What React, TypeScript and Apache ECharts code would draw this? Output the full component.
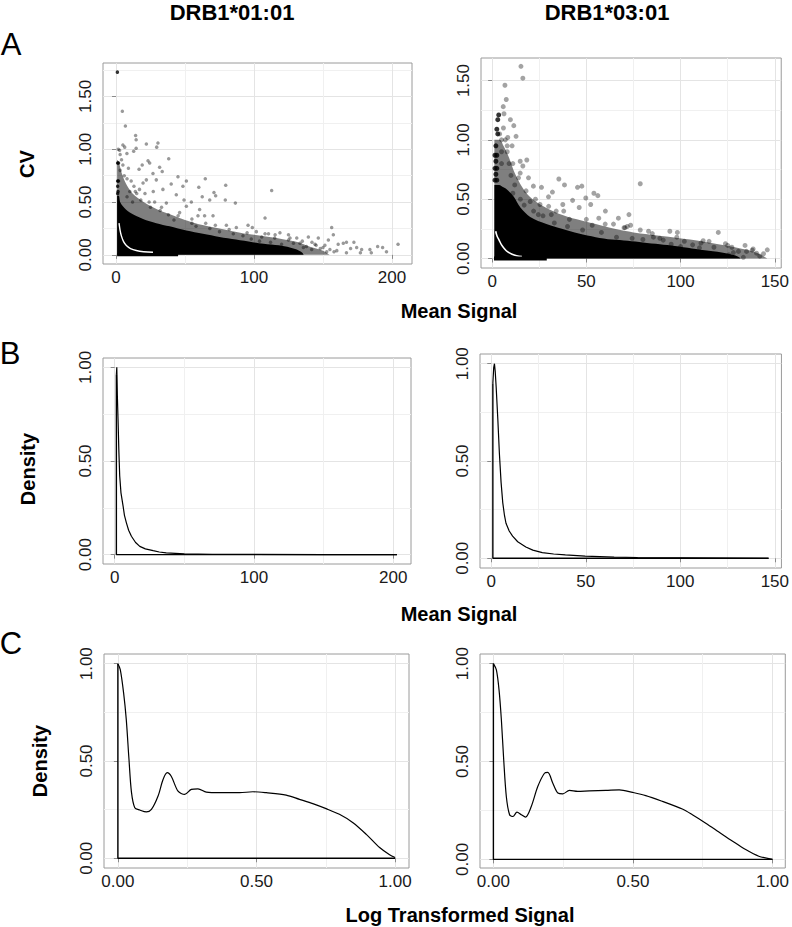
import React, { useEffect, useRef } from "react";
import * as echarts from "echarts";

// ---------------- Data ----------------
// Panel A (CV vs Mean Signal), DRB1*01:01
const a1Outliers: [number, number][] = [
  [4.6, 1.36], [6.8, 1.22], [14.2, 1.13], [14.6, 1.09], [22, 1.05], [30.4, 1.06], [29.5, 1.02], [1.6, 1.0],
  [2.6, 0.99], [5, 1.04], [6.3, 1.02], [12.8, 0.98], [14.6, 1.01], [7.9, 0.96], [38.2, 0.91], [23.2, 0.89],
  [24.4, 0.87], [19, 0.85], [31.6, 0.83], [33.5, 0.79], [16.7, 0.81], [44.9, 0.74], [64.7, 0.72], [51, 0.7],
  [40, 0.67], [48.5, 0.65], [60, 0.64], [79.5, 0.66], [71, 0.59], [72.2, 0.56], [67.9, 0.52], [79.2, 0.52],
  [86.5, 0.49], [62.5, 0.55], [54.6, 0.5], [49.3, 0.52], [43.7, 0.57], [60.6, 0.43], [59.4, 0.37], [64.2, 0.37],
  [70.3, 0.37], [51, 0.46], [46.1, 0.4], [36.5, 0.49], [34, 0.62], [29.2, 0.71], [22, 0.71], [26.8, 0.77],
  [19.6, 0.68], [95.7, 0.28], [87.2, 0.26], [101.7, 0.22], [112.8, 0.61], [108, 0.35], [98.8, 0.26],
  [156.3, 0.26], [157.5, 0.19], [153.9, 0.14], [146.6, 0.16], [139.4, 0.17], [131, 0.16], [125, 0.19],
  [118.8, 0.21], [164.7, 0.11], [167, 0.12], [172.4, 0.12], [174.4, 0.07], [178, 0.05], [184, 0.05],
  [189.6, 0.08], [193.2, 0.07], [204.4, 0.1], [167, 0.02], [161, 0.1], [151.4, 0.09], [144.2, 0.1],
  [141.8, 0.05], [135.8, 0.07], [133.3, 0.11], [152.7, 0.03], [177.1, 0.02], [105.6, 0.17], [110.5, 0.2],
  [115.3, 0.19], [126.1, 0.16], [128.6, 0.11], [8, 0.55], [10, 0.6], [12, 0.5], [15, 0.58], [18, 0.52],
  [25, 0.45], [28, 0.5], [32, 0.42], [38, 0.38], [42, 0.33], [55, 0.3], [58, 0.27], [68, 0.25], [75, 0.22],
  [80, 0.28], [85, 0.2], [92, 0.18], [98, 0.15], [104, 0.13], [112, 0.12], [120, 0.1], [138, 0.08],
  [142, 0.12], [148, 0.06], [155, 0.05], [160, 0.04], [170, 0.06], [185, 0.02], [196, 0.03], [3, 0.8],
  [4, 0.9], [6, 0.75], [9, 0.82], [11, 0.7], [13, 0.65], [17, 0.62], [21, 0.58], [27, 0.6],
  [3, 0.95], [5, 0.85], [8, 0.72], [14, 0.6], [24, 0.5], [33, 0.45], [45, 0.37], [55, 0.34], [65, 0.3],
  [72, 0.28], [82, 0.24], [95, 0.21], [108, 0.2], [115, 0.16], [125, 0.14], [135, 0.13], [145, 0.09],
  [150, 0.07], [158, 0.03],
];
const a1Column: [number, number][] = [
  [1, 1.73], [1.2, 0.87], [1.8, 0.87], [1.2, 0.7], [1.8, 0.7], [1.2, 0.65], [1.5, 0.6], [1.2, 0.58],
];
const a1Core: [number, number][] = [
  [0.8, 0], [0.8, 0.56], [2, 0.56], [3, 0.5], [5, 0.46], [10, 0.4], [19.6, 0.34], [29.2, 0.3], [38.9, 0.27],
  [51, 0.23], [63, 0.2], [75, 0.17], [87, 0.145], [99, 0.12], [107, 0.105], [118, 0.09], [126, 0.07],
  [131, 0.05], [135, 0.02], [136, 0],
];
const a1Halo: [number, number][] = [
  [0.8, 0], [0.8, 0.9], [2, 0.88], [4, 0.78], [7, 0.68], [12, 0.58], [20, 0.5], [30, 0.43], [40, 0.38],
  [50, 0.33], [60, 0.29], [75, 0.25], [90, 0.21], [105, 0.18], [120, 0.15], [132, 0.12], [140, 0.08],
  [150, 0.04], [155, 0],
];
const a1Gap: [number, number][] = [
  [2.2, 0.3], [3, 0.23], [3.9, 0.18], [5.5, 0.125], [7.5, 0.088], [10.5, 0.06], [14.7, 0.041], [20, 0.03], [26.8, 0.025],
];
const a1Zero: [number, number][] = [[0.8, 0], [45, 0]];

// Panel A, DRB1*03:01
const a2Outliers: [number, number][] = [
  [15.3, 1.62], [16.3, 1.52], [6.8, 1.46], [7.5, 1.34], [5.9, 1.28], [6.3, 1.22], [9.7, 1.17], [11.5, 1.12],
  [12.7, 1.03], [10.6, 0.95], [8.3, 1.02], [14.9, 0.82], [18.4, 0.83], [16.3, 0.78], [14.9, 0.72], [19.3, 0.68],
  [21.9, 0.61], [26.2, 0.6], [35.4, 0.67], [38.4, 0.62], [32, 0.56], [29.9, 0.52], [45.3, 0.6], [47.6, 0.61],
  [42.7, 0.49], [49.7, 0.51], [54, 0.55], [56.1, 0.53], [60.1, 0.4], [52.3, 0.455], [46.2, 0.43], [37.5, 0.455],
  [34, 0.4], [25.4, 0.455], [24.5, 0.37], [64.4, 0.29], [67, 0.34], [70.5, 0.26], [56.6, 0.34], [53.1, 0.28],
  [41, 0.33], [31.4, 0.37], [20.2, 0.48], [78.6, 0.63], [72.6, 0.37], [73.5, 0.28], [78.6, 0.24], [83, 0.23],
  [94.3, 0.23], [98.3, 0.22], [120, 0.22], [123.8, 0.125], [127.2, 0.095], [134.2, 0.11], [138.5, 0.08],
  [140.3, 0.045], [146, 0.073], [130.7, 0.06], [133.3, 0.01], [125.6, 0.031], [85.6, 0.18], [89, 0.17],
  [102, 0.145], [110.8, 0.13], [115.1, 0.145], [106.4, 0.115], [117.7, 0.095], [74.3, 0.17], [71.7, 0.27],
  [90.8, 0.155], [5, 0.9], [7, 1.0], [6, 1.1], [8, 0.9], [9, 0.8], [10, 0.7], [12, 0.62], [11, 0.55],
  [15, 0.5], [17, 0.45], [22, 0.4], [27, 0.36], [33, 0.3], [40, 0.27], [48, 0.24], [58, 0.22], [66, 0.18],
  [80, 0.16], [95, 0.12], [100, 0.1], [110, 0.09], [128, 0.05], [135, 0.06], [142, 0.02], [5, 0.8], [4, 1.05],
  [5, 1.0], [8, 0.95], [11, 0.8], [14, 0.68], [18, 0.57], [23, 0.5], [30, 0.44], [38, 0.4], [50, 0.33],
  [60, 0.29], [70, 0.26], [85, 0.21], [98, 0.18], [112, 0.15], [125, 0.11], [138, 0.07], [144, 0.04],
];
const a2Column: [number, number][] = [
  [3.5, 1.21], [3, 1.17], [2.5, 1.09], [3, 1.05], [2, 0.95], [1.5, 0.87], [2.5, 0.87], [2, 0.82],
  [1.5, 0.76], [2.5, 0.76], [2, 0.71], [1.5, 0.66], [2.5, 0.66],
];
const a2Core: [number, number][] = [
  [1.2, 0], [1.2, 0.62], [3.7, 0.62], [6, 0.6], [8, 0.58], [11.5, 0.52], [15, 0.43], [20.2, 0.35],
  [28.8, 0.29], [37, 0.25], [46, 0.21], [55, 0.18], [63.5, 0.16], [72, 0.15], [80, 0.135], [89, 0.12],
  [97, 0.105], [106, 0.085], [115, 0.065], [124, 0.045], [130, 0.02], [132, 0],
];
const a2Halo: [number, number][] = [
  [1.2, 0], [1.2, 1.0], [4, 1.0], [6, 0.95], [9, 0.85], [12, 0.72], [16, 0.6], [20, 0.52], [26, 0.45],
  [35, 0.38], [45, 0.33], [55, 0.29], [65, 0.25], [75, 0.22], [90, 0.19], [105, 0.16], [120, 0.12],
  [130, 0.09], [140, 0.05], [146, 0],
];
const a2Gap: [number, number][] = [
  [1.9, 0.23], [2.6, 0.19], [3.7, 0.155], [5, 0.115], [6.3, 0.087], [8.3, 0.055], [10.6, 0.036], [13, 0.024], [15.8, 0.016],
];
const a2Zero: [number, number][] = [[1.0, 0], [29, 0]];

// Panel B (density of mean signal)
const b1Curve: [number, number][] = [
  [1.2, 0.96], [1.5, 1.0], [1.9, 0.85], [2.4, 0.72], [3, 0.55], [3.6, 0.42], [4.5, 0.33], [6, 0.26], [7, 0.21],
  [8.4, 0.17], [10, 0.13], [12, 0.098], [15, 0.065], [18, 0.044], [22, 0.031], [27.6, 0.021], [32, 0.014],
  [37, 0.009], [50, 0.004], [70, 0.002], [100, 0.001], [150, 0.0005], [202.6, 0],
];
const b1Edge: [number, number][] = [[202.6, 0], [1.2, 0], [1.2, 0.96]];
const b2Curve: [number, number][] = [
  [0.85, 0.9], [1.3, 0.98], [1.7, 1.0], [2.1, 0.96], [2.6, 0.88], [3.5, 0.71], [4.3, 0.54], [5.2, 0.39],
  [6.1, 0.285], [7, 0.22], [7.8, 0.18], [9.5, 0.14], [11.3, 0.114], [14, 0.085], [18.3, 0.058], [22, 0.042],
  [27, 0.029], [33, 0.022], [39.2, 0.017], [49.7, 0.011], [65, 0.006], [77.4, 0.004], [100, 0.002], [146.7, 0],
];
const b2Edge: [number, number][] = [[146.7, 0], [0.85, 0], [0.85, 0.9]];

// Panel C (density of log transformed signal)
const c1Curve: [number, number][] = [
  [0, 1.0], [0.0087, 0.97], [0.0207, 0.85], [0.0303, 0.714], [0.04, 0.51], [0.049, 0.34], [0.061, 0.26],
  [0.079, 0.248], [0.103, 0.238], [0.121, 0.251], [0.145, 0.32], [0.163, 0.405], [0.178, 0.44], [0.193, 0.42],
  [0.217, 0.345], [0.241, 0.328], [0.265, 0.354], [0.289, 0.357], [0.319, 0.34], [0.367, 0.337], [0.439, 0.337],
  [0.487, 0.342], [0.535, 0.337], [0.607, 0.325], [0.655, 0.303], [0.703, 0.281], [0.751, 0.255], [0.799, 0.226],
  [0.848, 0.183], [0.896, 0.123], [0.944, 0.055], [0.98, 0.018], [1.0, 0.004],
];
const c1Edge: [number, number][] = [[1.0, 0], [0, 0], [0, 1.0]];
const c2Curve: [number, number][] = [
  [0, 1.0], [0.0107, 0.968], [0.0202, 0.866], [0.0286, 0.713], [0.037, 0.508], [0.0464, 0.32], [0.058, 0.228],
  [0.07, 0.219], [0.0845, 0.241], [0.1, 0.228], [0.115, 0.216], [0.1357, 0.27], [0.159, 0.372], [0.183, 0.44],
  [0.195, 0.444], [0.213, 0.389], [0.231, 0.339], [0.249, 0.335], [0.272, 0.352], [0.302, 0.347], [0.344, 0.35],
  [0.403, 0.352], [0.451, 0.355], [0.499, 0.342], [0.546, 0.326], [0.606, 0.296], [0.677, 0.257], [0.713, 0.228],
  [0.761, 0.185], [0.808, 0.14], [0.856, 0.094], [0.904, 0.05], [0.951, 0.016], [1.0, 0.0],
];
const c2Edge: [number, number][] = [[1.0, 0], [0, 0], [0, 1.0]];

// Tick values
const xTicksA1 = [0, 100, 200];
const xMinorA1 = [50, 150];
const xTicksA2 = [0, 50, 100, 150];
const xMinorA2 = [25, 75, 125];
const yTicksA = [0, 0.5, 1, 1.5];
const yMinorA1 = [0.25, 0.75, 1.25, 1.75];
const yMinorA2 = [0.25, 0.75, 1.25];
const yTicksBC = [0, 0.5, 1];
const yMinorBC = [0.25, 0.75];
const xTicksC = [0, 0.5, 1];
const xMinorC = [0.25, 0.75];

// ---------------- Layout / styling ----------------
const FONT = "'Liberation Sans', Arial, Helvetica, sans-serif";
const int = (v: number) => String(Math.round(v));
const two = (v: number) => v.toFixed(2);

type Panel = {
  box: { left: number; top: number; width: number; height: number };
  x: [number, number];
  y: [number, number];
  xMajor: number[];
  xMinor: number[];
  yMajor: number[];
  yMinor: number[];
  xFmt: (v: number) => string;
};

const panels: Panel[] = [
  { box: { left: 103, top: 63, width: 309, height: 201 }, x: [-9.42, 214.5], y: [-0.0865, 1.8165], xMajor: xTicksA1, xMinor: xMinorA1, yMajor: yTicksA, yMinor: yMinorA1, xFmt: int },
  { box: { left: 481, top: 58, width: 305, height: 210 }, x: [-5.9, 153.4], y: [-0.08, 1.69], xMajor: xTicksA2, xMinor: xMinorA2, yMajor: yTicksA, yMinor: yMinorA2, xFmt: int },
  { box: { left: 103, top: 358, width: 308, height: 206 }, x: [-8.4, 212.7], y: [-0.05, 1.05], xMajor: xTicksA1, xMinor: xMinorA1, yMajor: yTicksBC, yMinor: yMinorBC, xFmt: int },
  { box: { left: 480, top: 354, width: 306, height: 214 }, x: [-5.95, 153.5], y: [-0.05, 1.05], xMajor: xTicksA2, xMinor: xMinorA2, yMajor: yTicksBC, yMinor: yMinorBC, xFmt: int },
  { box: { left: 104, top: 654, width: 305, height: 214 }, x: [-0.05, 1.05], y: [-0.05, 1.05], xMajor: xTicksC, xMinor: xMinorC, yMajor: yTicksBC, yMinor: yMinorBC, xFmt: two },
  { box: { left: 480, top: 654, width: 306, height: 214 }, x: [-0.048, 1.046], y: [-0.044, 1.049], xMajor: xTicksC, xMinor: xMinorC, yMajor: yTicksBC, yMinor: yMinorBC, xFmt: two },
];

const TICK_COLOR = "#8a8a8a";
const LABEL = { fontSize: 17, color: "#1a1a1a", fontFamily: FONT };

function buildOption() {
  const grid: any[] = [];
  const xAxis: any[] = [];
  const yAxis: any[] = [];
  panels.forEach((p, i) => {
    grid.push({ ...p.box, show: true, borderColor: "#9a9a9a", borderWidth: 1, backgroundColor: "#fff", containLabel: false });
    xAxis.push({
      type: "value", gridIndex: i, min: p.x[0], max: p.x[1], position: "bottom",
      axisLine: { show: false },
      axisTick: { show: true, length: 4, customValues: p.xMajor, lineStyle: { color: TICK_COLOR } },
      axisLabel: { show: true, customValues: p.xMajor, formatter: p.xFmt, margin: 5, ...LABEL },
      splitLine: { show: true, lineStyle: { color: "#e4e4e4", width: 1 } },
    });
    xAxis.push({
      type: "value", gridIndex: i, min: p.x[0], max: p.x[1], position: "top",
      axisLine: { show: false },
      axisTick: { show: false, customValues: p.xMinor },
      axisLabel: { show: false },
      splitLine: { show: true, lineStyle: { color: "#f0f0f0", width: 1 } },
    });
    yAxis.push({
      type: "value", gridIndex: i, min: p.y[0], max: p.y[1], position: "left",
      axisLine: { show: false },
      axisTick: { show: true, length: 4, customValues: p.yMajor, lineStyle: { color: TICK_COLOR } },
      axisLabel: { show: true, customValues: p.yMajor, formatter: two, rotate: 90, margin: 9, ...LABEL },
      splitLine: { show: true, lineStyle: { color: "#e4e4e4", width: 1 } },
    });
    yAxis.push({
      type: "value", gridIndex: i, min: p.y[0], max: p.y[1], position: "right",
      axisLine: { show: false },
      axisTick: { show: false, customValues: p.yMinor },
      axisLabel: { show: false },
      splitLine: { show: true, lineStyle: { color: "#f0f0f0", width: 1 } },
    });
  });

  const series: any[] = [];
  const on = (i: number) => ({ xAxisIndex: 2 * i, yAxisIndex: 2 * i });
  const area = (i: number, data: [number, number][], opacity: number) => ({
    type: "line", ...on(i), data, symbol: "none", silent: true, smooth: 0.3,
    lineStyle: { width: 0, color: "#000", opacity: 0 },
    areaStyle: { color: "#000", opacity },
  });
  const path = (i: number, data: [number, number][], color: string, width: number, smooth: number | boolean = false) => ({
    type: "line", ...on(i), data, symbol: "none", silent: true, smooth,
    lineStyle: { width, color },
  });
  const dots = (i: number, data: [number, number][], size: number, color: string) => ({
    type: "scatter", ...on(i), data, symbol: "circle", symbolSize: size, silent: true,
    itemStyle: { color },
  });

  // Panel A left
  series.push(area(0, a1Halo, 0.5), area(0, a1Core, 1));
  series.push(path(0, a1Gap, "#fff", 1.4, 0.4), path(0, a1Zero, "#000", 3));
  series.push(dots(0, a1Outliers, 3.5, "rgba(0,0,0,0.5)"), dots(0, a1Column, 3.5, "#000"));
  // Panel A right
  series.push(area(1, a2Halo, 0.5), area(1, a2Core, 1));
  series.push(path(1, a2Gap, "#fff", 1.6, 0.4), path(1, a2Zero, "#000", 4));
  series.push(dots(1, a2Outliers, 5, "rgba(0,0,0,0.45)"), dots(1, a2Column, 5, "#000"));
  // Panel B
  series.push(path(2, b1Curve, "#000", 1.2), path(2, b1Edge, "#000", 1.4));
  series.push(path(3, b2Curve, "#000", 1.2), path(3, b2Edge, "#000", 1.4));
  // Panel C
  series.push(path(4, c1Curve, "#000", 1.2, 0.3), path(4, c1Edge, "#000", 1.4));
  series.push(path(5, c2Curve, "#000", 1.2, 0.3), path(5, c2Edge, "#000", 1.4));

  const txt = (text: string, x: number, y: number, size: number, weight: string, rotation = 0) => ({
    type: "text", x, y, rotation, silent: true,
    style: { text, fill: "#000", fontSize: size, fontWeight: weight, fontFamily: FONT, textAlign: "center", textVerticalAlign: "middle" },
  });

  const graphic = [
    txt("DRB1*01:01", 232, 12, 22, "bold"),
    txt("DRB1*03:01", 607, 12, 22, "bold"),
    txt("A", 11, 44, 31, "normal"),
    txt("B", 10, 353, 31, "normal"),
    txt("C", 11, 643, 31, "normal"),
    txt("CV", 27, 164, 20, "bold", Math.PI / 2),
    txt("Density", 28, 469, 20, "bold", Math.PI / 2),
    txt("Density", 40, 761, 20, "bold", Math.PI / 2),
    txt("Mean Signal", 459, 311, 20, "bold"),
    txt("Mean Signal", 459, 614, 20, "bold"),
    txt("Log Transformed Signal", 460, 915, 20, "bold"),
  ];

  return { animation: false, backgroundColor: "#fff", grid, xAxis, yAxis, series, graphic };
}

export default function App() {
  const ref = useRef<HTMLDivElement>(null);
  useEffect(() => {
    if (!ref.current) return;
    const chart = echarts.init(ref.current, undefined, { renderer: "svg" });
    chart.setOption(buildOption() as any);
    return () => chart.dispose();
  }, []);
  return <div ref={ref} style={{ position: "absolute", left: 0, top: 0, width: 792, height: 927, background: "#fff" }} />;
}
